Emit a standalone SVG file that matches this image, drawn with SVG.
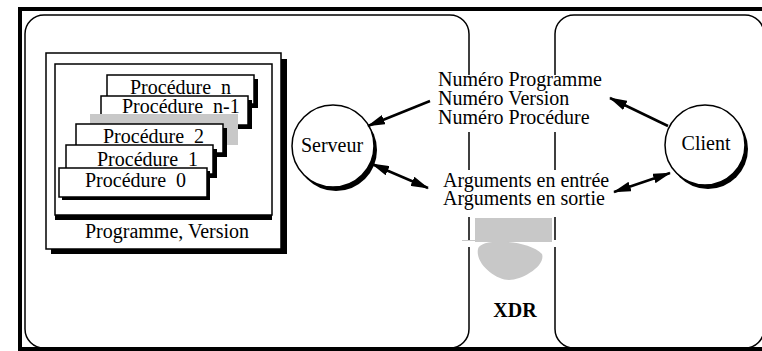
<svg xmlns="http://www.w3.org/2000/svg" width="762" height="351" viewBox="0 0 762 351">
  <style>
    text { font-family: "Liberation Serif", "Times New Roman", serif; font-size: 20px; fill: #000; }
    .panel { fill: none; stroke: #000; stroke-width: 1.5; }
    .box { fill: #fff; stroke: #000; stroke-width: 1.5; }
    .shadow { fill: #000; }
    .conn { stroke: #000; stroke-width: 2.5; fill: none; }
    .gray { fill: #c8c8c8; }
  </style>
  <defs>
    <marker id="arrow" viewBox="0 0 18 10" refX="17" refY="5" markerWidth="18" markerHeight="10" markerUnits="userSpaceOnUse" orient="auto-start-reverse">
      <path d="M0,0 L18,5 L0,10 Z" fill="#000"/>
    </marker>
  </defs>

  <rect width="762" height="351" fill="#fff"/>

  <!-- outer frame -->
  <rect x="20" y="9" width="760" height="340" fill="none" stroke="#000" stroke-width="4"/>

  <!-- server and client areas -->
  <g id="server-area">
    <rect class="panel" x="25" y="15" width="444" height="333" rx="19"/>
  </g>
  <g id="client-area">
    <rect class="panel" x="555" y="15" width="209" height="333" rx="19"/>
  </g>

  <!-- program / version box with its procedures -->
  <g id="programme">
    <rect class="shadow" x="51" y="59" width="236" height="195"/>
    <rect class="box" x="46" y="53" width="235" height="196"/>
    <rect class="shadow" x="55" y="214" width="217" height="6"/>
    <rect class="box" x="55" y="64" width="217" height="151"/>
    <text x="167" y="238" text-anchor="middle">Programme, Version</text>
  </g>

  <g id="proc-n">
    <rect class="shadow" x="111" y="79" width="147" height="29"/>
    <rect class="box" x="107" y="75" width="147" height="29"/>
    <text x="130" y="94" xml:space="preserve">Procédure  n</text>
  </g>
  <g id="proc-n-1">
    <rect class="shadow" x="105" y="100" width="147" height="29"/>
    <rect class="box" x="101" y="96" width="147" height="29"/>
    <text x="122" y="113" xml:space="preserve">Procédure  n-1</text>
  </g>
  <g id="proc-gap">
    <rect class="gray" x="90" y="114" width="148" height="31"/>
  </g>
  <g id="proc-2">
    <rect class="shadow" x="80" y="128" width="147" height="29"/>
    <rect class="box" x="76" y="124" width="147" height="29"/>
    <text x="103" y="143" xml:space="preserve">Procédure  2</text>
  </g>
  <g id="proc-1">
    <rect class="shadow" x="70" y="149" width="147" height="29"/>
    <rect class="box" x="66" y="145" width="147" height="29"/>
    <text x="97" y="166" xml:space="preserve">Procédure  1</text>
  </g>
  <g id="proc-0">
    <rect class="shadow" x="62" y="171" width="148" height="29"/>
    <rect class="box" x="59" y="168" width="148" height="29"/>
    <text x="85" y="187" xml:space="preserve">Procédure  0</text>
  </g>

  <!-- server and client processes -->
  <g id="serveur">
    <circle class="shadow" cx="336" cy="150" r="41"/>
    <circle class="box" cx="333" cy="146" r="41"/>
    <text x="332" y="152" text-anchor="middle">Serveur</text>
  </g>
  <g id="client">
    <circle class="shadow" cx="708" cy="149" r="40"/>
    <circle class="box" cx="705" cy="145" r="40"/>
    <text x="706" y="150" text-anchor="middle">Client</text>
  </g>

  <!-- exchanged messages -->
  <g id="msg-identification">
    <rect x="434" y="75" width="178" height="57" fill="#fff"/>
    <text x="438" y="86">Numéro Programme</text>
    <text x="438" y="105">Numéro Version</text>
    <text x="438" y="124">Numéro Procédure</text>
  </g>
  <g id="msg-arguments">
    <rect x="438" y="170" width="174" height="47" fill="#fff"/>
    <text x="443" y="187">Arguments en entrée</text>
    <text x="443" y="205">Arguments en sortie</text>
  </g>

  <!-- XDR layer -->
  <g id="xdr">
    <rect x="462" y="240" width="100" height="7" fill="#fff"/>
    <rect class="gray" x="475" y="218" width="77" height="24"/>
    <line x1="462" y1="240.5" x2="552" y2="240.5" stroke="#c8c8c8" stroke-width="1"/>
    <path class="gray" d="M478,249 C480,238 528,239 542,254 C546,266 522,280 509,280 C496,280 475,264 478,249 Z"/>
    <text x="515" y="317" text-anchor="middle" font-weight="bold" font-size="19">XDR</text>
  </g>

  <!-- connectors -->
  <g id="connectors">
    <line class="conn" x1="430" y1="101" x2="368" y2="126" marker-end="url(#arrow)"/>
    <line class="conn" x1="372" y1="164" x2="428" y2="188" marker-start="url(#arrow)" marker-end="url(#arrow)"/>
    <line class="conn" x1="668" y1="126" x2="610" y2="98" marker-end="url(#arrow)"/>
    <line class="conn" x1="614" y1="192" x2="670" y2="173" marker-start="url(#arrow)" marker-end="url(#arrow)"/>
  </g>
</svg>
